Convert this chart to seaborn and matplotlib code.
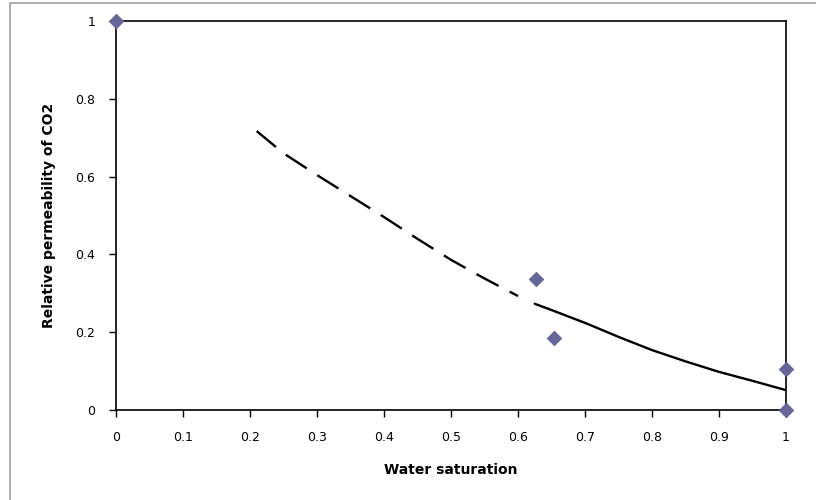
import matplotlib
matplotlib.use("Agg")
import matplotlib.pyplot as plt
import seaborn as sns
import pandas as pd
from matplotlib.patches import Rectangle

# measured points (diamonds)
meas_sw = [0.0, 0.627, 0.654, 1.0, 1.0]
meas_kr = [1.0, 0.337, 0.185, 0.105, 0.0]

# fitted curve
curve_sw = [0.21, 0.25, 0.30, 0.35, 0.40, 0.45, 0.50, 0.55, 0.60, 0.625,
            0.65, 0.70, 0.75, 0.80, 0.85, 0.90, 0.95, 1.0]
curve_kr = [0.717, 0.66, 0.604, 0.55, 0.496, 0.44, 0.386, 0.338, 0.293, 0.273,
            0.257, 0.224, 0.188, 0.154, 0.125, 0.098, 0.075, 0.051]
dash_end = 0.60     # curve is broken (dashed) up to here
solid_start = 0.625  # and continuous from here on

x_ticks = [0, 0.1, 0.2, 0.3, 0.4, 0.5, 0.6, 0.7, 0.8, 0.9, 1]
x_labels = ["0", "0.1", "0.2", "0.3", "0.4", "0.5", "0.6", "0.7", "0.8", "0.9", "1"]
y_ticks = [0, 0.2, 0.4, 0.6, 0.8, 1]
y_labels = ["0", "0.2", "0.4", "0.6", "0.8", "1"]

sns.set_theme(style="white")
plt.rcParams['font.family'] = ['DejaVu Sans']
plt.rcParams['lines.scale_dashes'] = False
plt.rcParams['text.color'] = 'black'
plt.rcParams['axes.labelcolor'] = 'black'
plt.rcParams['xtick.color'] = 'black'
plt.rcParams['ytick.color'] = 'black'

df_meas = pd.DataFrame({"sw": meas_sw, "kr": meas_kr})
df_curve = pd.DataFrame({"sw": curve_sw, "kr": curve_kr})
dashed = df_curve[df_curve["sw"] <= dash_end]
solid = df_curve[df_curve["sw"] >= solid_start]

fig = plt.figure(figsize=(8.16, 5.0), dpi=100)
ax = fig.add_axes([116 / 816, 1 - 410 / 500, 670 / 816, 389 / 500])

sns.lineplot(data=dashed, x="sw", y="kr", ax=ax, color="black", linewidth=1.7,
             estimator=None, sort=False)
ax.lines[-1].set_dashes((18, 9))
sns.lineplot(data=solid, x="sw", y="kr", ax=ax, color="black", linewidth=1.7,
             estimator=None, sort=False)
sns.scatterplot(data=df_meas, x="sw", y="kr", ax=ax, marker="D", s=55,
                color="#666699", edgecolor="#666699", zorder=5, clip_on=False)

ax.set_xlim(0, 1)
ax.set_ylim(0, 1)
ax.set_xticks(x_ticks)
ax.set_xticklabels(x_labels, fontsize=9)
ax.set_yticks(y_ticks)
ax.set_yticklabels(y_labels, fontsize=9)
ax.tick_params(axis="both", direction="out", length=5, width=1, color="black",
               bottom=True, left=True, pad=10)
for side in ["left", "bottom", "top", "right"]:
    ax.spines[side].set_color("black")
    ax.spines[side].set_linewidth(1.2)

ax.set_xlabel("Water saturation", fontsize=10, fontweight="bold", labelpad=14)
ax.set_ylabel("Relative permeability of CO2", fontsize=10, fontweight="bold", labelpad=14)

# chart area border
fig.patches.append(Rectangle((10 / 816, -0.1), 1.2, 1 - 3 / 500 + 0.1,
                             transform=fig.transFigure, fill=False,
                             edgecolor="#a0a0a0", linewidth=1.2))

plt.savefig("out.png", dpi=100)
